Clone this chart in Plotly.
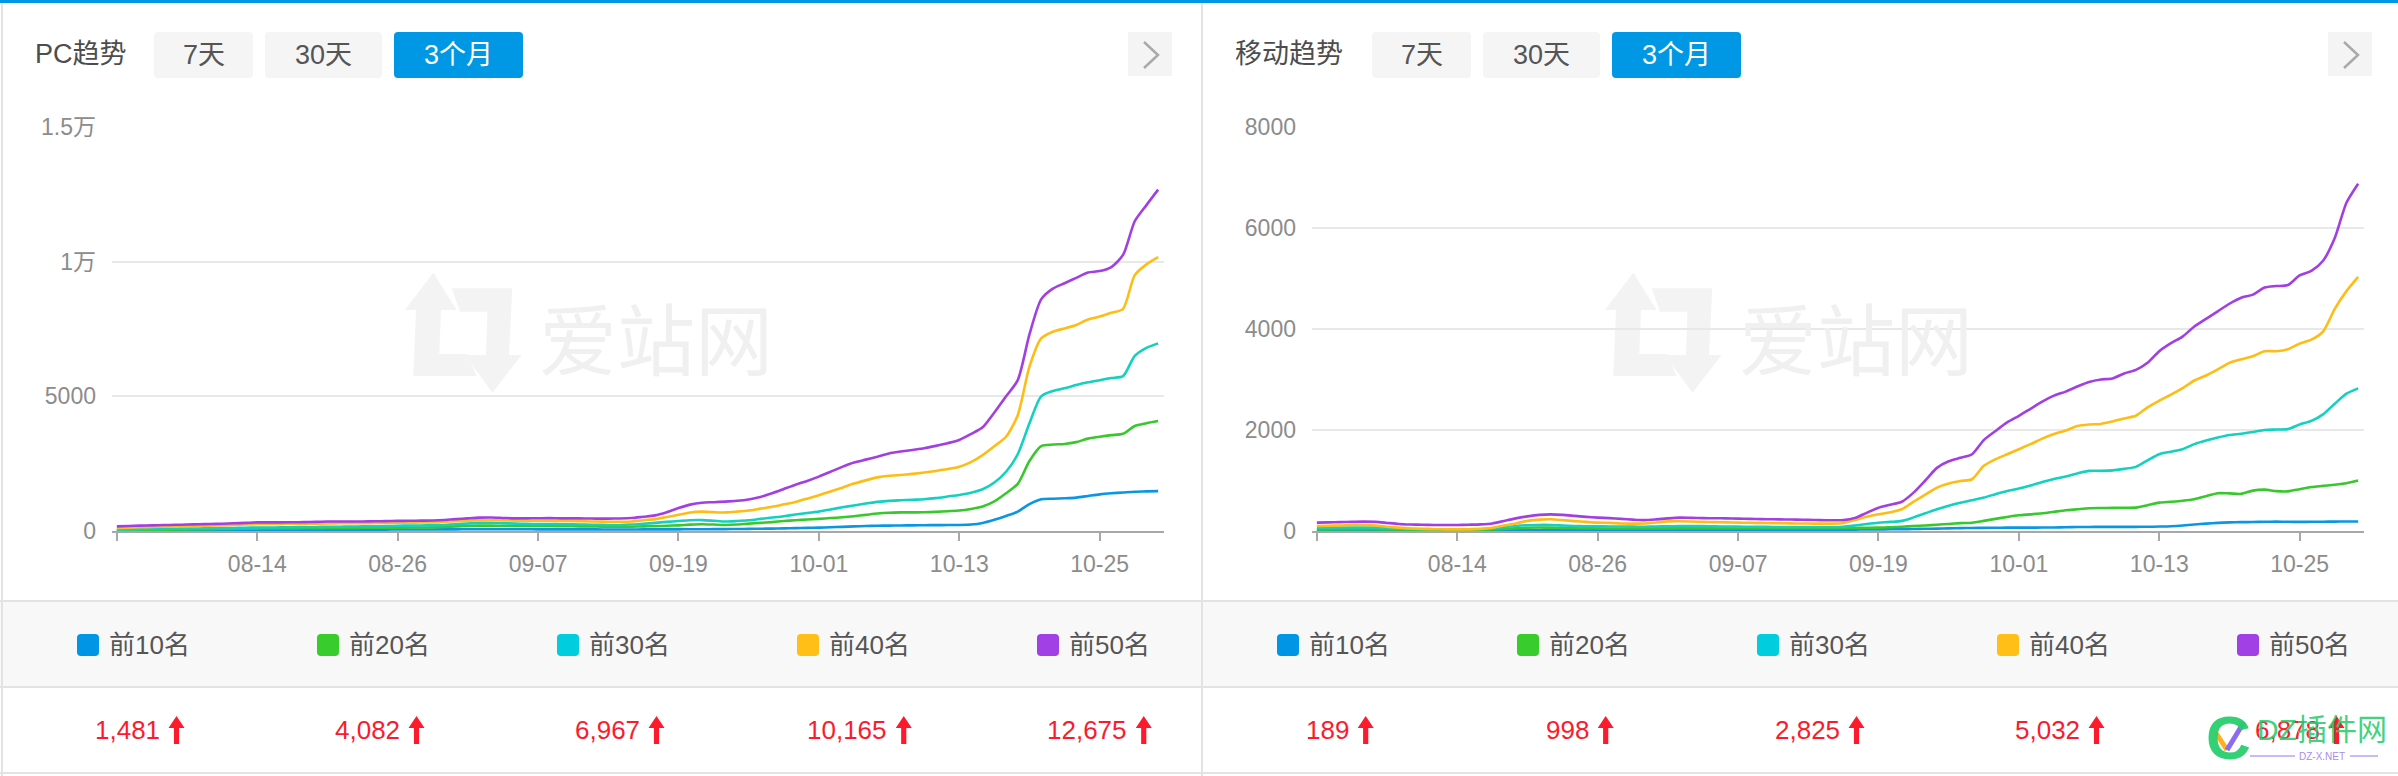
import plotly.graph_objects as go
import pandas as pd

W, H = 2398, 776

# ---------------- data ----------------
dates = pd.date_range("2023-08-02", periods=90, freq="D")
tick_dates = list(dates[::12])
tick_labels = ["", "08-14", "08-26", "09-07", "09-19", "10-01", "10-13", "10-25"]

series_names = ["前10名", "前20名", "前30名", "前40名", "前50名"]
line_colors = ["#0a96e3", "#38c72c", "#12d1c0", "#ffbd14", "#a23fe3"]
marker_colors = ["#0096e6", "#38cc2c", "#00cedf", "#ffbf17", "#a040e5"]

pc_top10 = [20, 22, 24, 26, 28, 30, 32, 34, 35, 36, 38, 40,
            42, 43, 44, 45, 46, 47, 48, 49, 50, 50, 51, 52,
            55, 56, 57, 58, 60, 62, 65, 66, 66, 65, 64, 63,
            62, 62, 61, 60, 60, 59, 58, 58, 58, 59, 60, 61,
            62, 64, 66, 68, 70, 74, 78, 84, 90, 97, 105, 115,
            124, 140, 155, 170, 185, 195, 200, 205, 210, 215, 218, 220,
            223, 240, 300, 420, 560, 720, 1000, 1180, 1200, 1215, 1240, 1300,
            1360, 1400, 1430, 1460, 1470, 1481]
pc_top20 = [30, 35, 40, 45, 50, 55, 60, 65, 70, 75, 80, 85,
            90, 92, 95, 98, 100, 105, 110, 112, 115, 118, 120, 122,
            125, 128, 130, 135, 150, 170, 190, 200, 200, 195, 190, 188,
            186, 185, 180, 175, 170, 165, 160, 158, 160, 170, 180, 195,
            210, 235, 250, 240, 225, 240, 275, 300, 330, 370, 400, 425,
            450, 480, 510, 550, 600, 650, 680, 690, 692, 695, 710, 735,
            760, 820, 910, 1100, 1400, 1750, 2600, 3150, 3210, 3230, 3300, 3430,
            3500, 3560, 3610, 3900, 4000, 4082]
pc_top30 = [50, 60, 70, 75, 80, 85, 90, 95, 100, 105, 110, 120,
            130, 130, 135, 140, 145, 150, 155, 160, 165, 170, 175, 180,
            195, 200, 205, 210, 225, 250, 280, 300, 305, 290, 275, 265,
            260, 258, 250, 245, 240, 230, 225, 222, 240, 270, 300, 340,
            370, 400, 405, 380, 350, 370, 400, 450, 500, 550, 610, 670,
            720, 800, 880, 950, 1020, 1080, 1120, 1140, 1160, 1180, 1220, 1280,
            1340, 1420, 1550, 1800, 2200, 2850, 4000, 5000, 5200, 5300, 5420, 5520,
            5600, 5680, 5750, 6500, 6800, 6967]
pc_top40 = [110, 125, 140, 150, 160, 170, 180, 190, 200, 210, 225, 240,
            250, 250, 255, 260, 265, 270, 280, 285, 290, 290, 295, 300,
            305, 310, 315, 320, 340, 360, 385, 405, 410, 395, 385, 380,
            380, 380, 375, 370, 360, 350, 345, 345, 355, 400, 440, 520,
            600, 690, 720, 700, 690, 720, 760, 830, 900, 990, 1080, 1200,
            1330, 1470, 1610, 1760, 1880, 1990, 2050, 2080, 2120, 2170, 2230, 2300,
            2390, 2560, 2820, 3150, 3500, 4300, 6100, 7150, 7400, 7520, 7650, 7850,
            7960, 8100, 8250, 9500, 9900, 10165]
pc_top50 = [170, 185, 200, 210, 220, 230, 240, 250, 260, 270, 285, 300,
            320, 320, 320, 325, 330, 340, 350, 355, 355, 355, 360, 365,
            375, 380, 385, 390, 410, 440, 470, 495, 500, 485, 470, 470,
            475, 478, 470, 470, 465, 460, 460, 465, 480, 530, 580, 700,
            850, 980, 1050, 1070, 1090, 1120, 1170, 1260, 1400, 1560, 1720, 1860,
            2020, 2200, 2380, 2540, 2650, 2760, 2880, 2950, 3010, 3070, 3160, 3260,
            3380, 3600, 3850, 4400, 5000, 5600, 7300, 8600, 9000, 9200, 9400, 9600,
            9650, 9800, 10250, 11500, 12100, 12675]

mob_top10 = [10, 10, 11, 12, 12, 12, 11, 10, 10, 10, 10, 10,
             10, 10, 11, 12, 14, 16, 18, 20, 20, 19, 18, 18,
             18, 18, 18, 18, 19, 20, 22, 24, 25, 25, 25, 25,
             25, 25, 25, 25, 25, 25, 25, 26, 26, 27, 28, 30,
             32, 34, 36, 40, 44, 48, 52, 56, 60, 62, 64, 66,
             66, 67, 68, 70, 74, 78, 80, 82, 82, 82, 82, 84,
             88, 95, 110, 130, 146, 160, 170, 175, 178, 182, 185, 183,
             180, 182, 184, 186, 188, 189]
mob_top20 = [33, 33, 34, 35, 35, 34, 32, 30, 28, 26, 25, 24,
             24, 25, 27, 30, 40, 55, 65, 68, 66, 62, 58, 55,
             52, 50, 50, 50, 50, 51, 52, 53, 53, 53, 53, 53,
             53, 53, 53, 53, 53, 53, 53, 53, 54, 56, 60, 64,
             66, 75, 85, 99, 110, 125, 140, 155, 165, 200, 240, 278,
             311, 330, 350, 380, 410, 430, 450, 455, 458, 460, 463, 510,
             562, 580, 600, 630, 690, 748, 745, 735, 800, 820, 790, 785,
             827, 870, 893, 915, 945, 998]
mob_top30 = [66, 66, 68, 70, 70, 66, 55, 45, 40, 38, 36, 35,
             35, 36, 40, 50, 75, 100, 115, 120, 119, 110, 100, 95,
             92, 90, 88, 86, 85, 88, 95, 100, 99, 97, 92, 88,
             86, 84, 82, 80, 80, 79, 79, 79, 79, 85, 110, 140,
             165, 180, 200, 270, 350, 430, 500, 560, 609, 662, 730, 794,
             840, 900, 970, 1030, 1080, 1140, 1190, 1191, 1200, 1230, 1270, 1400,
             1520, 1570, 1620, 1720, 1790, 1850, 1900, 1925, 1960, 2000, 2010, 2018,
             2110, 2180, 2310, 2520, 2720, 2825]
mob_top40 = [100, 105, 110, 118, 119, 110, 85, 66, 50, 40, 35, 33,
             33, 33, 40, 66, 110, 150, 200, 225, 232, 215, 195, 180,
             165, 160, 150, 146, 150, 170, 190, 192, 188, 180, 175, 170,
             165, 162, 160, 155, 152, 150, 148, 146, 146, 160, 220, 280,
             331, 370, 430, 580, 720, 860, 940, 990, 1025, 1290, 1420, 1520,
             1620, 1720, 1830, 1920, 1990, 2080, 2110, 2120, 2170, 2230, 2283, 2450,
             2580, 2700, 2830, 2980, 3080, 3200, 3330, 3400, 3460, 3560, 3560, 3600,
             3710, 3790, 3950, 4400, 4750, 5032]
mob_top50 = [165, 170, 175, 180, 185, 180, 160, 140, 130, 125, 120, 119,
             120, 125, 132, 150, 200, 250, 290, 320, 330, 320, 300, 280,
             265, 255, 240, 225, 215, 230, 250, 265, 260, 255, 252, 250,
             245, 240, 235, 232, 228, 225, 220, 215, 212, 215, 260, 360,
             460, 520, 580, 760, 1000, 1250, 1380, 1450, 1520, 1800, 1980, 2150,
             2280, 2420, 2560, 2680, 2760, 2860, 2950, 3000, 3020, 3120, 3190, 3330,
             3560, 3720, 3850, 4050, 4200, 4350, 4500, 4620, 4680, 4820, 4850, 4870,
             5060, 5150, 5350, 5800, 6500, 6878]

pc_series = [pc_top10, pc_top20, pc_top30, pc_top40, pc_top50]
mob_series = [mob_top10, mob_top20, mob_top30, mob_top40, mob_top50]

pc_y_ticks = [0, 5000, 10000, 15000]
pc_y_labels = ["0", "5000", "1万", "1.5万"]
mob_y_ticks = [0, 2000, 4000, 6000, 8000]
mob_y_labels = ["0", "2000", "4000", "6000", "8000"]

panel_titles = ["PC趋势", "移动趋势"]
button_labels = ["7天", "30天", "3个月"]

# ---------------- helpers ----------------
FONT = "Liberation Sans, Arial, 'Noto Sans CJK SC', sans-serif"


def px(x):
    return x / W


def py(y):
    return 1 - y / H


def P(x, y):
    return f"{px(x):.6f},{py(y):.6f}"


def rrect(x0, y0, x1, y1, r):
    return (f"M {P(x0 + r, y0)} L {P(x1 - r, y0)} Q {P(x1, y0)} {P(x1, y0 + r)} "
            f"L {P(x1, y1 - r)} Q {P(x1, y1)} {P(x1 - r, y1)} L {P(x0 + r, y1)} "
            f"Q {P(x0, y1)} {P(x0, y1 - r)} L {P(x0, y0 + r)} Q {P(x0, y0)} {P(x0 + r, y0)} Z")


def poly(pts):
    return "M " + " L ".join(P(x, y) for x, y in pts) + " Z"


shapes = []
annotations = []


def rect(x0, y0, x1, y1, color, layer="below"):
    shapes.append(dict(type="rect", xref="paper", yref="paper", x0=px(x0), x1=px(x1),
                       y0=py(y1), y1=py(y0), fillcolor=color, line=dict(width=0), layer=layer))


def text(x, y, s, size, color, xanchor="left", yanchor="middle", bold=False, family=FONT):
    if bold:
        s = f"<b>{s}</b>"
    annotations.append(dict(xref="paper", yref="paper", x=px(x), y=py(y), text=s,
                            showarrow=False, xanchor=xanchor, yanchor=yanchor,
                            font=dict(size=size, color=color, family=family)))


# ---------------- figure ----------------
fig = go.Figure()

x_range = [str(dates[0] - pd.Timedelta(hours=10)), str(dates[-1] + pd.Timedelta(hours=12))]

for k, (series, ticks, labels, ymax) in enumerate([
        (pc_series, pc_y_ticks, pc_y_labels, 15000),
        (mob_series, mob_y_ticks, mob_y_labels, 8000)]):
    off = 1200 * k
    xa = "x" if k == 0 else "x2"
    ya = "y" if k == 0 else "y2"
    for name, col, vals in zip(series_names, line_colors, series):
        fig.add_trace(go.Scatter(x=dates, y=vals, name=name, mode="lines",
                                 line=dict(color=col, width=2.6, shape="spline", smoothing=0.7),
                                 xaxis=xa, yaxis=ya, showlegend=False, hoverinfo="skip"))
    xkey = "xaxis" if k == 0 else "xaxis2"
    ykey = "yaxis" if k == 0 else "yaxis2"
    fig.update_layout(**{
        xkey: dict(domain=[px(112 + off), px(1164 + off)], anchor=ya, type="date",
                   range=x_range, tickmode="array", tickvals=tick_dates, ticktext=tick_labels,
                   ticks="outside", ticklen=8, tickwidth=2, tickcolor="#a8a8a8",
                   showline=True, linecolor="#a8a8a8", linewidth=2, showgrid=False,
                   zeroline=False, tickfont=dict(size=23, color="#8c8c8c", family=FONT),
                   ticklabelstandoff=3, fixedrange=True, automargin=False),
        ykey: dict(domain=[py(531), py(127)], anchor=xa, range=[0, ymax],
                   tickmode="array", tickvals=ticks, ticktext=labels,
                   showgrid=True, gridcolor="#e8e8e8", gridwidth=2, zeroline=False,
                   showline=False, ticks="", ticklabelstandoff=15,
                   tickfont=dict(size=23, color="#8c8c8c", family=FONT), fixedrange=True,
                   automargin=False),
    })

    # watermark icon + text (爱站网)
    def wx(p):
        return 380 + off + p / 3

    def wy(p):
        return 220 + p / 3

    iconA = [(160, 158), (230, 270), (183, 270), (178, 402), (262, 402), (290, 468),
             (100, 468), (108, 270), (75, 270)]
    iconB = [(215, 205), (397, 205), (387, 405), (425, 405), (337, 518), (255, 405),
             (318, 405), (322, 275), (240, 275)]
    for pts in (iconA, iconB):
        shapes.append(dict(type="path", xref="paper", yref="paper",
                           path=poly([(wx(a), wy(b)) for a, b in pts]),
                           fillcolor="#f3f3f3", line=dict(width=0), layer="below"))
    text(656 + off, 336, "爱站网", 78, "#f0f0f0", xanchor="center",
         family="'Noto Sans CJK SC', sans-serif")

    # header
    text(33 + off, 54, panel_titles[k], 27, "#4d4d4d")
    bx = 154 if k == 0 else 1372
    widths = [99, 117, 129]
    for i, (lab, wdt) in enumerate(zip(button_labels, widths)):
        active = i == 2
        shapes.append(dict(type="path", xref="paper", yref="paper",
                           path=rrect(bx, 32, bx + wdt, 78, 4),
                           fillcolor="#0098e4" if active else "#f5f5f5",
                           line=dict(width=0), layer="below"))
        text(bx + wdt / 2, 55, lab, 27, "#ffffff" if active else "#555555", xanchor="center")
        bx += wdt + 12
    # chevron button
    cx0 = 1128 + off
    rect(cx0, 32, cx0 + 44, 76, "#f4f4f4")
    shapes.append(dict(type="path", xref="paper", yref="paper",
                       path=f"M {P(cx0 + 16, 42)} L {P(cx0 + 30, 55)} L {P(cx0 + 16, 68)}",
                       line=dict(color="#a9a9a9", width=2.5), layer="above"))

    # legend + latest values
    for i, (name, col, vals) in enumerate(zip(series_names, marker_colors, series)):
        c = 140 + 240 * i + off
        shapes.append(dict(type="path", xref="paper", yref="paper",
                           path=rrect(c - 63, 634, c - 41, 656, 4),
                           fillcolor=col, line=dict(width=0), layer="above"))
        text(c - 33, 645, name, 26, "#555555")
        s = f"{vals[-1]:,}"
        fs = 26
        w = fs * (0.556 * sum(ch.isdigit() for ch in s) + 0.278 * s.count(","))
        tr = c + w / 2 - 14
        text(tr + 3, 730, s, fs, "#fc1b2d", xanchor="right")
        a = tr + 18
        shapes.append(dict(type="path", xref="paper", yref="paper",
                           path=poly([(a, 716), (a + 8, 728), (a + 2.6, 728), (a + 2.6, 744),
                                      (a - 2.6, 744), (a - 2.6, 728), (a - 8, 728)]),
                           fillcolor="#fc1b2d", line=dict(width=0), layer="above"))

# frame: top bar, borders, legend band
rect(0, 0, W, 3, "#0396e3", "above")
rect(0, 601, W, 687, "#f8f8f8")
rect(0, 600, W, 602, "#e3e3e3")
rect(0, 686, W, 688, "#e3e3e3")
rect(0, 772, W, 774, "#e3e3e3")
rect(1, 3, 3, H, "#e3e3e3", "above")
rect(1201, 3, 1203, H, "#e3e3e3", "above")

# DZ watermark (bottom right overlay)
text(2228, 737, "C", 62, "rgba(40,205,110,0.95)", xanchor="center", bold=True)
shapes.append(dict(type="path", xref="paper", yref="paper",
                   path=f"M {P(2216, 733)} L {P(2227, 750)}",
                   line=dict(color="#ffb020", width=5), layer="above"))
shapes.append(dict(type="path", xref="paper", yref="paper",
                   path=f"M {P(2227, 750)} L {P(2244, 722)}",
                   line=dict(color="#8b6cf0", width=5), layer="above"))
text(2322, 729, "DZ插件网", 30, "rgba(40,205,110,0.9)", xanchor="center")
text(2322, 756, "DZ-X.NET", 10, "#a88cf0", xanchor="center")
shapes.append(dict(type="line", xref="paper", yref="paper", x0=px(2250), x1=px(2295),
                   y0=py(756), y1=py(756), line=dict(color="#b9a4f2", width=1.5)))
shapes.append(dict(type="line", xref="paper", yref="paper", x0=px(2350), x1=px(2378),
                   y0=py(756), y1=py(756), line=dict(color="#b9a4f2", width=1.5)))

fig.update_layout(width=W, height=H,
                  margin=dict(l=0, r=0, t=0, b=0, pad=0, autoexpand=False),
                  paper_bgcolor="#ffffff", plot_bgcolor="#ffffff",
                  shapes=shapes, annotations=annotations, showlegend=False,
                  font=dict(family=FONT))

fig.write_html("out.html", config={"displayModeBar": False})
